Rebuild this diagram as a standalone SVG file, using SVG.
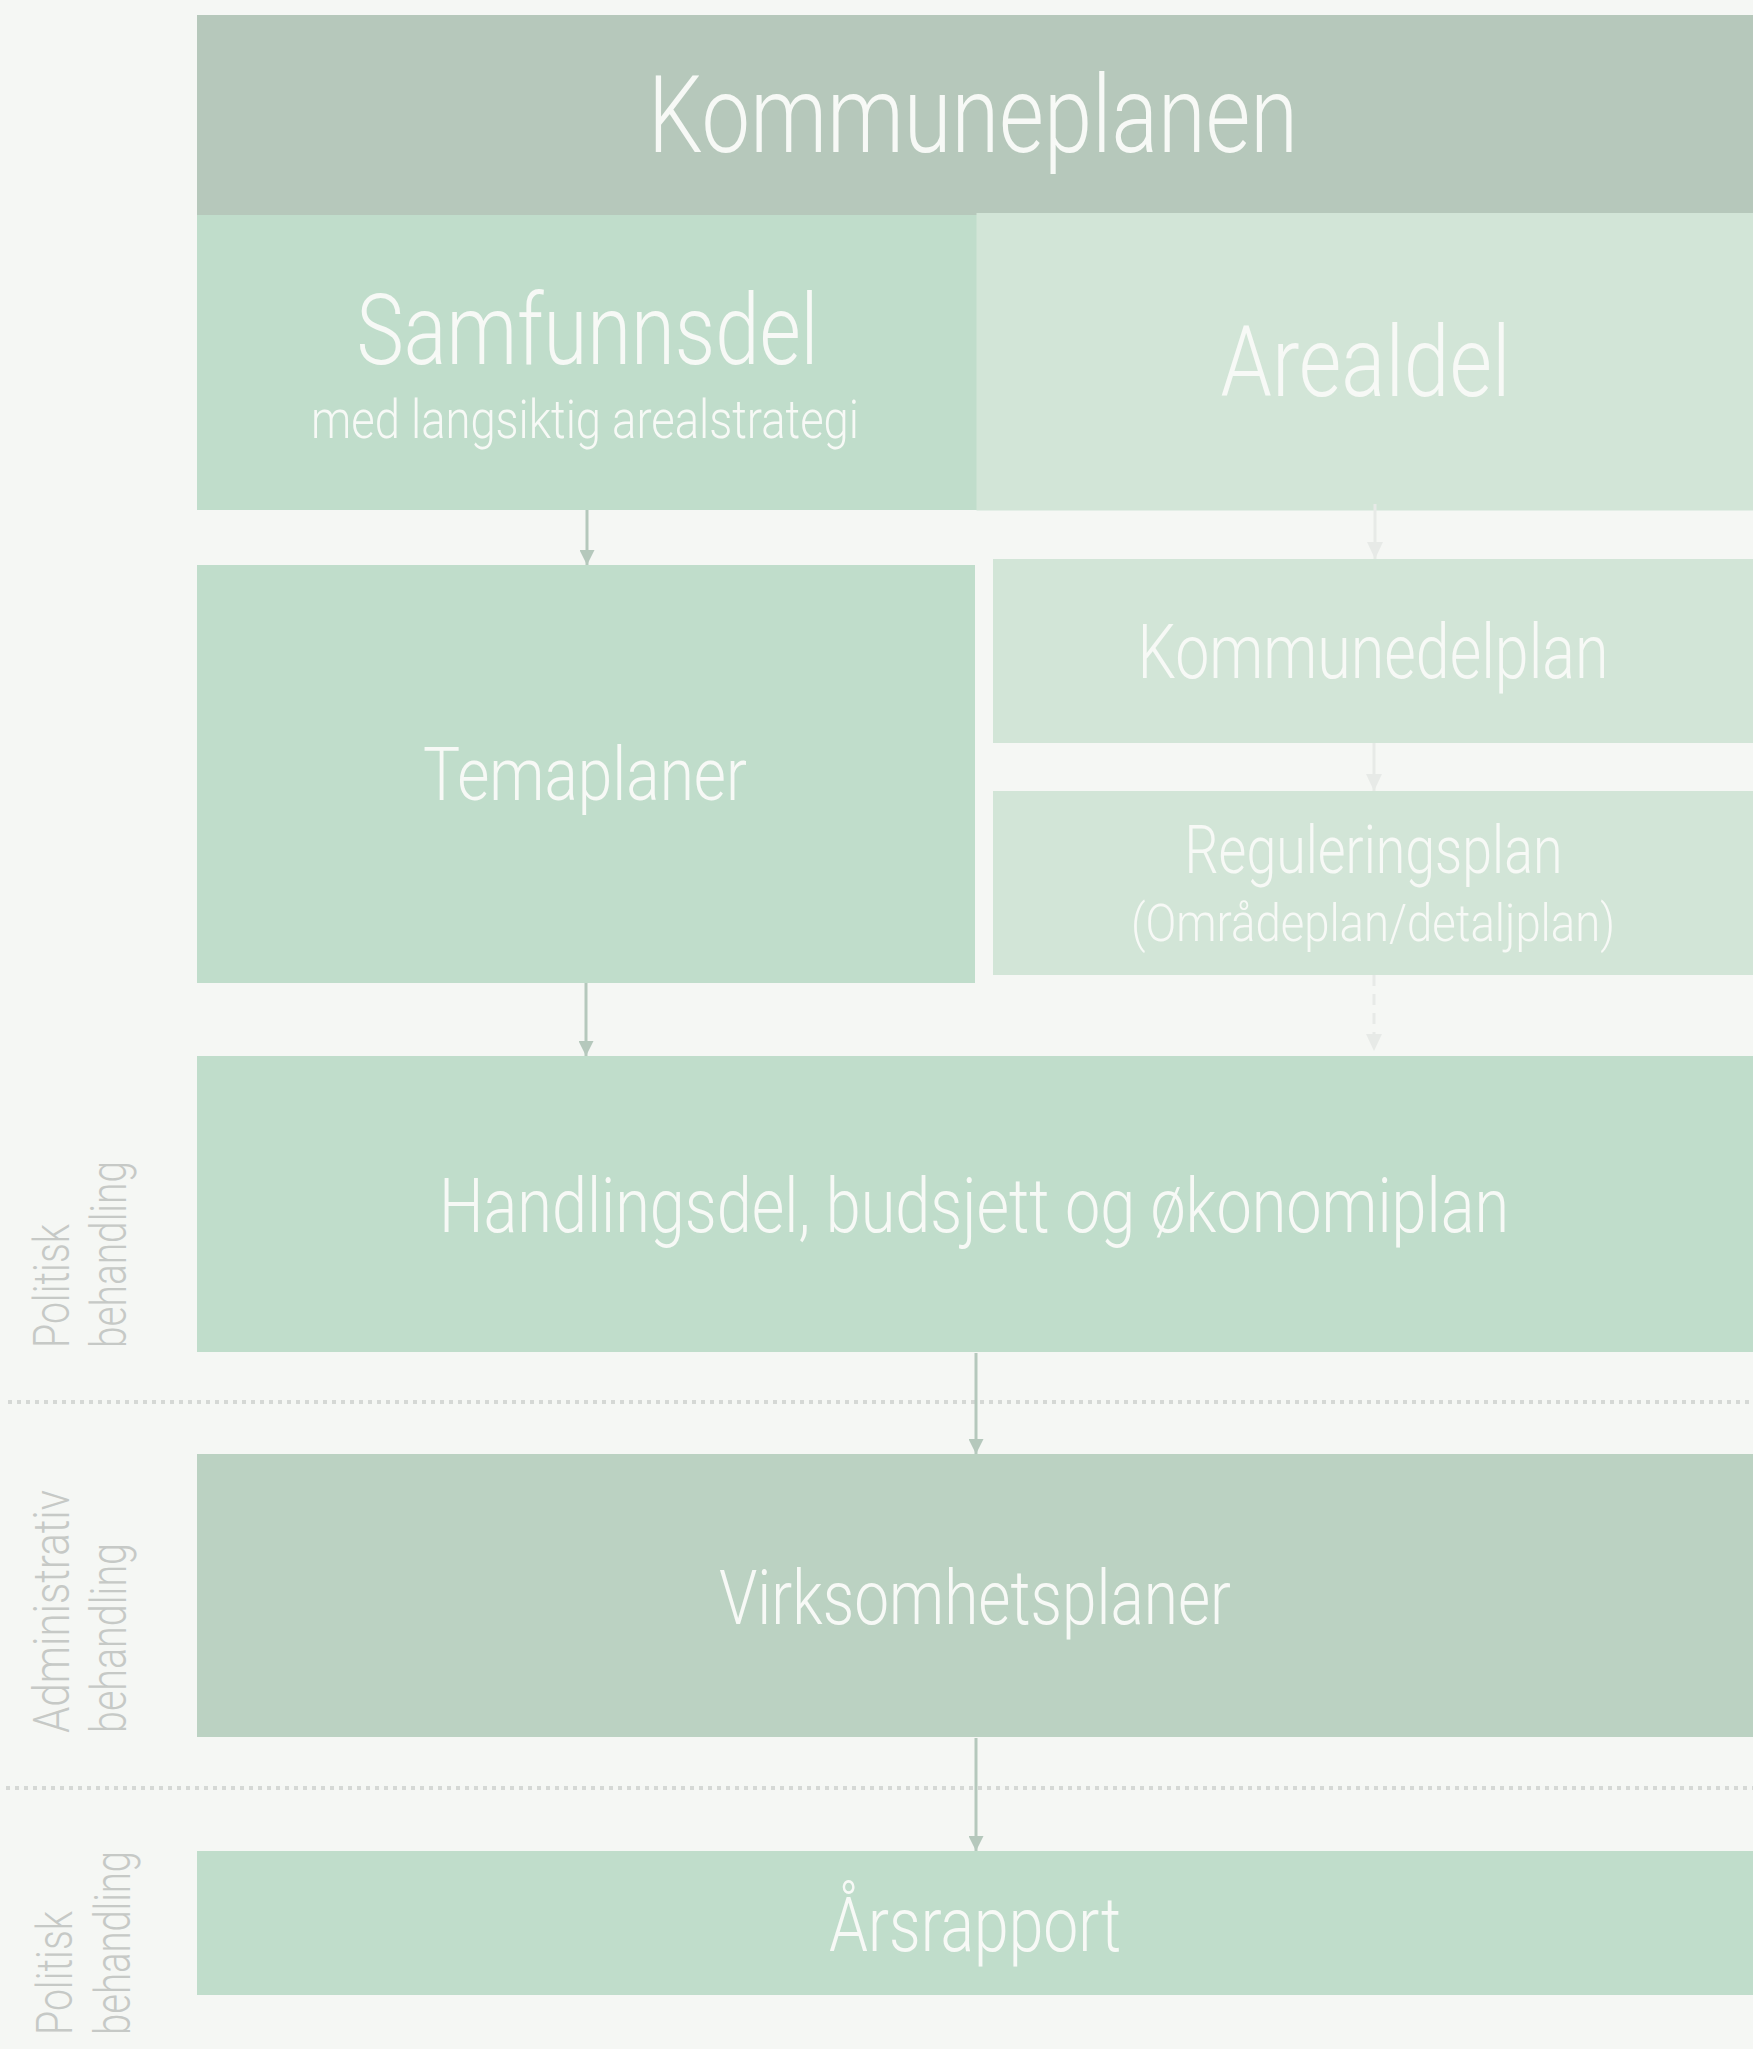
<svg xmlns="http://www.w3.org/2000/svg" width="1753" height="2049" viewBox="0 0 1753 2049">
<style>
.t{font-family:Roboto,"Open Sans","Liberation Sans",sans-serif;font-weight:300;fill:#f7f9f6;text-anchor:middle}
.side{font-family:Roboto,"Open Sans","Liberation Sans",sans-serif;font-weight:300;fill:#c6c9c6}
.top{fill:#b6c8bb}
.mid{fill:#c0ddcb}
.light{fill:#d2e5d7}
.adm{fill:#bbd2c2}
.dark{stroke:#b5c8bc;stroke-width:3;fill:none}
.pale{stroke:#e7eae7;stroke-width:3;fill:none}
.dots{stroke:#d5d8d5;stroke-width:4;stroke-dasharray:4 5;fill:none}
</style>
<defs>
<marker id="ah" markerUnits="userSpaceOnUse" markerWidth="15" markerHeight="15" refX="15" refY="7.5" orient="auto">
<path d="M0,0 L15,7.5 L0,15 z" fill="#b5c8bc"/>
</marker>
<marker id="ahl" markerUnits="userSpaceOnUse" markerWidth="17" markerHeight="16" refX="17" refY="8" orient="auto">
<path d="M0,0 L17,8 L0,16 z" fill="#e7eae7"/>
</marker>
</defs>
<rect x="0" y="0" width="1753" height="2049" fill="#f5f7f4"/>

<g id="side-labels">
<text class="side" font-size="50" transform="translate(69,1348) rotate(-90)" textLength="124" lengthAdjust="spacingAndGlyphs">Politisk</text>
<text class="side" font-size="50" transform="translate(126,1348) rotate(-90)" textLength="187" lengthAdjust="spacingAndGlyphs">behandling</text>
<text class="side" font-size="50" transform="translate(69,1733) rotate(-90)" textLength="243" lengthAdjust="spacingAndGlyphs">Administrativ</text>
<text class="side" font-size="50" transform="translate(126,1733) rotate(-90)" textLength="190" lengthAdjust="spacingAndGlyphs">behandling</text>
<text class="side" font-size="50" transform="translate(72,2035) rotate(-90)" textLength="124" lengthAdjust="spacingAndGlyphs">Politisk</text>
<text class="side" font-size="50" transform="translate(130,2035) rotate(-90)" textLength="184" lengthAdjust="spacingAndGlyphs">behandling</text>
</g>

<g id="separators">
<line class="dots" x1="8" y1="1402" x2="1753" y2="1402"/>
<line class="dots" x1="6" y1="1788" x2="1753" y2="1788"/>
</g>

<g id="kommuneplanen">
<rect class="top" x="197" y="15" width="1556" height="200"/>
<text class="t" x="973" y="152" font-size="108" textLength="650" lengthAdjust="spacingAndGlyphs">Kommuneplanen</text>
</g>

<g id="samfunnsdel">
<rect class="mid" x="197" y="215" width="780" height="295"/>
<text class="t" x="587.5" y="364" font-size="99" textLength="462" lengthAdjust="spacingAndGlyphs">Samfunnsdel</text>
<text class="t" x="585" y="438" font-size="53" textLength="548" lengthAdjust="spacingAndGlyphs">med langsiktig arealstrategi</text>
</g>

<g id="arealdel">
<rect class="light" x="976.5" y="213" width="776.5" height="297.5"/>
<text class="t" x="1365.5" y="396" font-size="98" textLength="290" lengthAdjust="spacingAndGlyphs">Arealdel</text>
</g>

<g id="temaplaner">
<rect class="mid" x="197" y="565" width="778" height="418"/>
<text class="t" x="585" y="800" font-size="75" textLength="324" lengthAdjust="spacingAndGlyphs">Temaplaner</text>
</g>

<g id="kommunedelplan">
<rect class="light" x="993" y="559" width="760" height="184"/>
<text class="t" x="1373" y="678" font-size="76" textLength="471" lengthAdjust="spacingAndGlyphs">Kommunedelplan</text>
</g>

<g id="reguleringsplan">
<rect class="light" x="993" y="791" width="760" height="184"/>
<text class="t" x="1373.5" y="873" font-size="66" textLength="378" lengthAdjust="spacingAndGlyphs">Reguleringsplan</text>
<text class="t" x="1373" y="941" font-size="51" textLength="484" lengthAdjust="spacingAndGlyphs">(Områdeplan/detaljplan)</text>
</g>

<g id="handlingsdel">
<rect class="mid" x="197" y="1056" width="1556" height="296"/>
<text class="t" x="974" y="1232" font-size="76" textLength="1070" lengthAdjust="spacingAndGlyphs">Handlingsdel, budsjett og økonomiplan</text>
</g>

<g id="virksomhetsplaner">
<rect class="adm" x="197" y="1454" width="1556" height="283"/>
<text class="t" x="975" y="1624" font-size="76" textLength="512" lengthAdjust="spacingAndGlyphs">Virksomhetsplaner</text>
</g>

<g id="arsrapport">
<rect class="mid" x="197" y="1851" width="1556" height="144"/>
<text class="t" x="975" y="1951" font-size="76" textLength="292" lengthAdjust="spacingAndGlyphs">Årsrapport</text>
</g>

<g id="connectors">
<line class="dark" x1="587" y1="510" x2="587" y2="565" marker-end="url(#ah)"/>
<line class="dark" x1="586" y1="983" x2="586" y2="1056" marker-end="url(#ah)"/>
<line class="dark" x1="976" y1="1353" x2="976" y2="1454" marker-end="url(#ah)"/>
<line class="dark" x1="976" y1="1738" x2="976" y2="1851" marker-end="url(#ah)"/>
<line class="pale" x1="1375" y1="504" x2="1375" y2="559" marker-end="url(#ahl)"/>
<line class="pale" x1="1374" y1="743" x2="1374" y2="791" marker-end="url(#ahl)"/>
<line class="pale" x1="1374" y1="975" x2="1374" y2="1051" stroke-dasharray="11 8" marker-end="url(#ahl)"/>
</g>
</svg>
